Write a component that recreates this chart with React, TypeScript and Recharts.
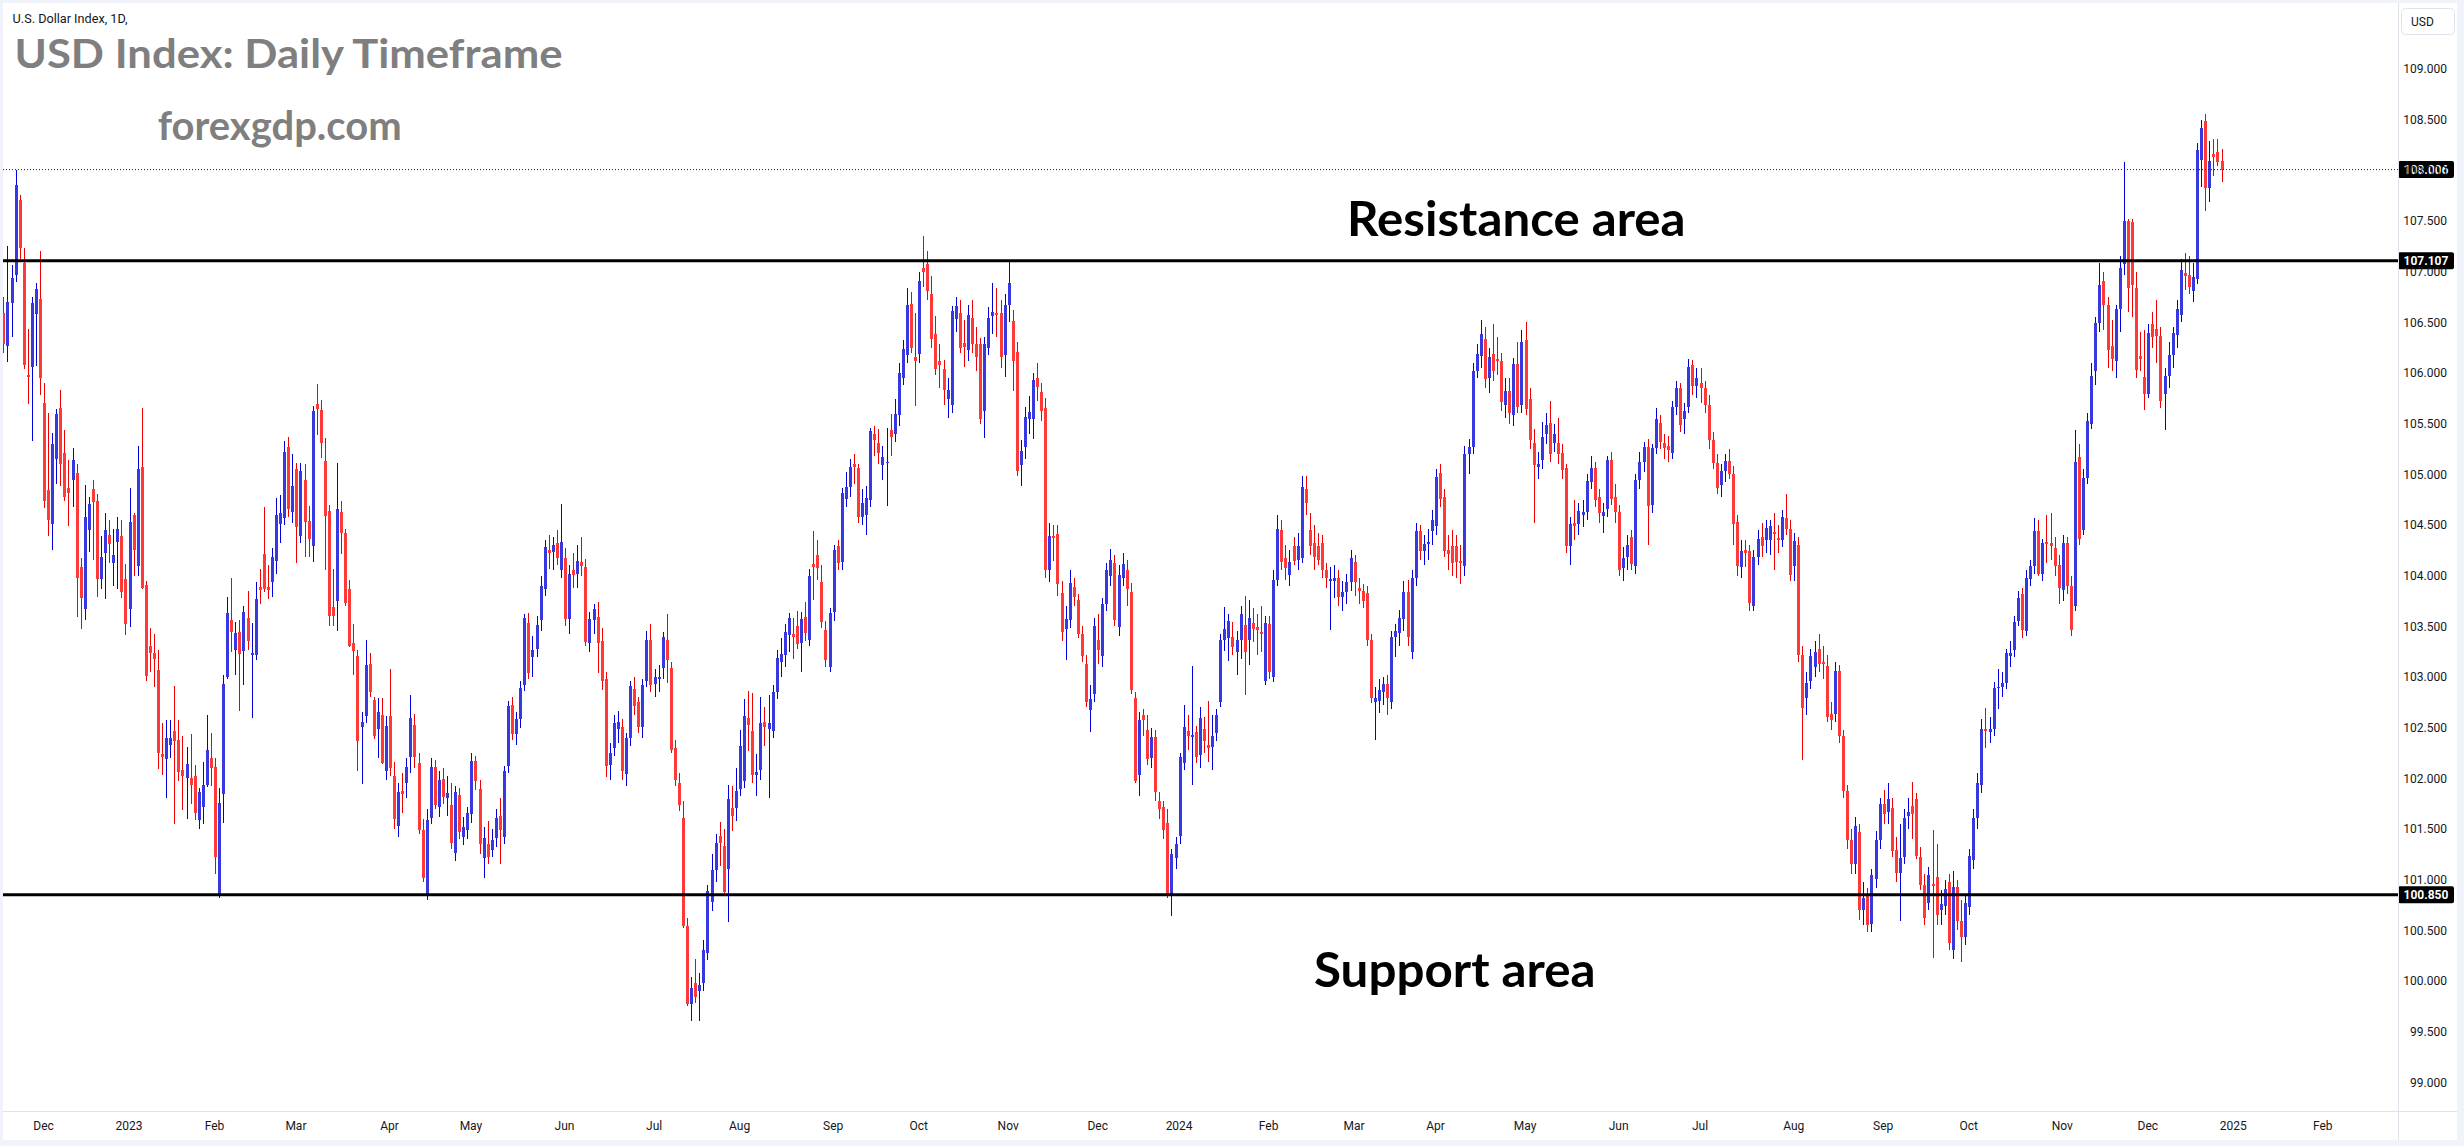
import React from "react";
import { ComposedChart, Bar, XAxis, YAxis, ReferenceLine } from "recharts";

// one daily bar: open, high, low, close
type Candle = [number, number, number, number];

const nov2022: Candle[] = [
  [106.59, 106.75, 106.2, 106.28], [106.27, 107.25, 106.11, 106.7], [106.69, 107.06, 106.35, 106.94], [106.97, 108.0, 106.9, 107.85], [107.71, 107.76, 107.12, 107.23],
  [107.08, 107.23, 106.04, 106.08], [105.98, 106.43, 105.69, 105.96], [106.06, 106.75, 105.33, 106.69], [106.58, 106.89, 106.07, 106.83], [106.73, 107.2, 105.78, 105.95],
];
const dec2022: Candle[] = [
  [105.7, 105.9, 104.67, 104.74], [104.84, 105.6, 104.39, 104.55], [104.51, 105.41, 104.25, 105.3], [105.15, 105.64, 104.9, 105.59], [105.65, 105.83, 104.88, 105.1],
  [105.21, 105.44, 104.74, 104.78], [104.86, 105.14, 104.49, 104.81], [104.94, 105.26, 104.68, 105.14], [105.01, 105.1, 103.59, 103.98], [104.08, 104.17, 103.47, 103.78],
  [103.67, 104.89, 103.56, 104.58], [104.45, 104.78, 104.23, 104.71], [104.85, 104.94, 104.15, 104.73], [104.74, 104.8, 103.79, 103.97], [103.97, 104.39, 103.87, 104.18],
  [104.22, 104.62, 103.77, 104.45], [104.4, 104.55, 104.12, 104.31], [104.12, 104.46, 103.9, 104.2], [104.33, 104.58, 103.87, 104.46], [104.39, 104.55, 103.78, 103.84],
  [103.97, 104.11, 103.41, 103.52],
];
const jan2023: Candle[] = [
  [103.67, 104.86, 103.49, 104.53], [104.6, 104.62, 104.0, 104.25], [104.09, 105.28, 104.0, 105.05], [105.07, 105.65, 103.87, 103.88], [103.91, 103.95, 102.96, 103.01],
  [103.3, 103.48, 103.05, 103.24], [103.24, 103.42, 102.9, 103.18], [103.07, 103.27, 102.09, 102.25], [102.24, 102.54, 102.03, 102.21], [102.19, 102.57, 101.8, 102.4],
  [102.33, 102.57, 102.2, 102.4], [102.47, 102.91, 101.55, 102.37], [102.38, 102.57, 101.97, 102.06], [102.08, 102.42, 101.69, 102.02], [102.0, 102.31, 101.6, 102.14],
  [102.0, 102.44, 101.75, 101.93], [102.02, 102.13, 101.59, 101.66], [101.59, 101.9, 101.5, 101.86], [101.72, 102.16, 101.55, 101.93], [101.93, 102.62, 101.91, 102.28],
  [102.2, 102.45, 101.92, 102.1],
];
const feb2023: Candle[] = [
  [102.11, 102.2, 101.05, 101.22], [100.85, 101.9, 100.82, 101.76], [101.84, 103.02, 101.56, 102.93], [103.0, 103.79, 102.98, 103.63], [103.56, 103.98, 103.25, 103.44],
  [103.27, 103.54, 103.02, 103.43], [103.44, 103.56, 102.66, 103.23], [103.26, 103.7, 102.92, 103.64], [103.58, 103.85, 103.27, 103.35], [103.22, 103.53, 102.59, 103.24],
  [103.22, 103.94, 103.17, 103.77], [103.89, 104.06, 103.72, 103.86], [104.21, 104.68, 103.84, 103.87], [103.89, 104.1, 103.77, 103.86], [103.94, 104.27, 103.79, 104.18],
  [104.14, 104.77, 104.02, 104.6], [104.51, 104.79, 104.32, 104.62], [104.57, 105.33, 104.5, 105.22], [105.27, 105.37, 104.58, 104.66], [104.63, 105.2, 104.52, 104.88],
];
const mar2023: Candle[] = [
  [105.05, 105.11, 104.12, 104.48], [104.39, 105.11, 104.32, 105.03], [104.94, 105.1, 104.18, 104.53], [104.54, 104.69, 104.18, 104.36], [104.29, 105.67, 104.13, 105.62],
  [105.69, 105.89, 105.39, 105.64], [105.63, 105.73, 105.16, 105.31], [105.13, 105.36, 104.05, 104.59], [104.64, 104.7, 103.5, 103.6], [103.69, 104.06, 103.5, 103.6],
  [103.75, 105.11, 103.45, 104.66], [104.63, 104.74, 104.21, 104.42], [104.42, 104.46, 103.7, 103.73], [103.87, 103.96, 103.29, 103.3], [103.33, 103.52, 103.02, 103.26],
  [103.21, 103.27, 102.07, 102.37], [102.51, 102.65, 101.94, 102.55], [102.61, 103.36, 102.54, 103.12], [103.13, 103.24, 102.8, 102.85], [102.77, 102.8, 102.39, 102.42],
  [102.49, 102.79, 102.2, 102.65], [102.62, 102.79, 102.14, 102.15], [102.07, 102.61, 101.98, 102.52],
];
const apr2023: Candle[] = [
  [102.61, 103.08, 102.02, 102.1], [102.02, 102.16, 101.5, 101.6], [101.53, 101.95, 101.42, 101.86], [101.87, 102.05, 101.66, 101.84], [101.95, 102.2, 101.8, 102.11],
  [102.21, 102.82, 102.05, 102.59], [102.53, 102.63, 102.1, 102.21], [102.15, 102.25, 101.45, 101.49], [101.49, 101.6, 100.98, 101.02], [100.84, 101.7, 100.8, 101.59],
  [101.61, 102.2, 101.55, 102.11], [102.11, 102.18, 101.7, 101.74], [101.72, 102.07, 101.62, 101.98], [101.99, 102.1, 101.75, 101.81], [101.8, 102.02, 101.63, 101.85],
  [101.74, 101.95, 101.3, 101.36], [101.26, 101.92, 101.18, 101.86], [101.83, 101.9, 101.4, 101.47], [101.42, 101.62, 101.34, 101.52], [101.49, 101.72, 101.4, 101.66],
];
const may2023: Candle[] = [
  [101.65, 102.25, 101.56, 102.17], [102.17, 102.22, 101.88, 101.97], [101.89, 101.98, 101.25, 101.35], [101.21, 101.52, 101.02, 101.41], [101.35, 101.58, 101.15, 101.22],
  [101.29, 101.5, 101.22, 101.39], [101.41, 101.7, 101.32, 101.61], [101.63, 101.8, 101.15, 101.49], [101.42, 102.12, 101.35, 102.07], [102.12, 102.76, 102.05, 102.71],
  [102.72, 102.8, 102.38, 102.44], [102.44, 102.65, 102.33, 102.58], [102.58, 102.96, 102.5, 102.89], [102.92, 103.62, 102.86, 103.58], [103.53, 103.63, 102.98, 103.04],
  [103.2, 103.4, 103.0, 103.27], [103.28, 103.6, 103.2, 103.51], [103.56, 104.0, 103.45, 103.9], [103.87, 104.35, 103.8, 104.28], [104.25, 104.4, 104.06, 104.22],
  [104.23, 104.38, 104.05, 104.3], [104.32, 104.45, 104.1, 104.17], [104.05, 104.71, 103.98, 104.33],
];
const jun2023: Candle[] = [
  [104.17, 104.27, 103.5, 103.57], [103.57, 104.1, 103.42, 104.02], [104.05, 104.22, 103.88, 104.01], [104.02, 104.3, 103.88, 104.14], [104.13, 104.38, 104.0, 104.09],
  [104.08, 104.16, 103.3, 103.34], [103.33, 103.64, 103.25, 103.57], [103.56, 103.72, 103.42, 103.67], [103.59, 103.74, 103.04, 103.33], [103.35, 103.48, 102.87, 102.96],
  [102.98, 103.05, 102.01, 102.12], [102.13, 102.35, 101.98, 102.25], [102.3, 102.62, 102.22, 102.54], [102.49, 102.66, 102.35, 102.55], [102.51, 102.58, 101.98, 102.07],
  [102.04, 102.45, 101.92, 102.4], [102.4, 102.96, 102.32, 102.91], [102.88, 103.0, 102.62, 102.71], [102.75, 102.8, 102.45, 102.51], [102.51, 102.98, 102.4, 102.92],
  [102.96, 103.45, 102.9, 103.36], [103.36, 103.52, 102.85, 102.92],
];
const jul2023: Candle[] = [
  [102.93, 103.08, 102.8, 103.0], [102.98, 103.12, 102.85, 103.0], [103.09, 103.44, 102.98, 103.39], [103.36, 103.62, 102.94, 103.17], [103.09, 103.15, 102.25, 102.28],
  [102.3, 102.38, 101.92, 101.98], [101.95, 102.05, 101.68, 101.74], [101.61, 101.78, 100.52, 100.54], [100.54, 100.62, 99.75, 99.77], [99.77, 100.04, 99.6, 99.93],
  [99.98, 100.22, 99.78, 99.84], [99.9, 100.08, 99.6, 99.96], [99.98, 100.4, 99.9, 100.3], [100.28, 100.95, 100.21, 100.89], [100.78, 101.25, 100.69, 101.09],
  [101.09, 101.45, 100.98, 101.36], [101.43, 101.57, 101.13, 101.36], [101.33, 101.5, 100.84, 100.88], [101.1, 101.93, 100.58, 101.79], [101.71, 101.92, 101.48, 101.63],
  [101.71, 102.1, 101.58, 101.87],
];
const aug2023: Candle[] = [
  [101.89, 102.48, 101.82, 102.32], [101.97, 102.78, 101.9, 102.61], [102.59, 102.86, 102.27, 102.53], [102.47, 102.84, 101.95, 102.03], [102.03, 102.24, 101.82, 102.06],
  [102.08, 102.8, 101.98, 102.54], [102.55, 102.7, 102.32, 102.51], [102.49, 102.82, 101.8, 102.54], [102.47, 102.92, 102.4, 102.85], [102.85, 103.27, 102.78, 103.19],
  [103.15, 103.38, 103.0, 103.23], [103.22, 103.52, 103.1, 103.44], [103.41, 103.63, 103.25, 103.58], [103.42, 103.58, 103.18, 103.39], [103.5, 103.65, 103.28, 103.32],
  [103.33, 103.64, 103.05, 103.57], [103.59, 103.74, 103.35, 103.43], [103.36, 104.06, 103.3, 104.0], [104.11, 104.44, 103.76, 104.08], [104.2, 104.35, 103.96, 104.07],
  [103.94, 104.1, 103.48, 103.54], [103.46, 103.55, 103.1, 103.17], [103.1, 103.68, 103.05, 103.63],
];
const sep2023: Candle[] = [
  [103.64, 104.3, 103.55, 104.25], [104.29, 104.35, 104.05, 104.12], [104.13, 104.86, 104.05, 104.81], [104.76, 105.02, 104.68, 104.87], [104.87, 105.15, 104.78, 105.07],
  [105.1, 105.2, 104.9, 105.07], [105.06, 105.1, 104.52, 104.58], [104.58, 104.85, 104.5, 104.72], [104.6, 104.88, 104.4, 104.77], [104.75, 105.46, 104.68, 105.43],
  [105.4, 105.48, 105.18, 105.34], [105.31, 105.45, 105.1, 105.21], [105.09, 105.28, 104.94, 105.17], [105.11, 105.46, 104.69, 105.12], [105.44, 105.59, 105.18, 105.37],
  [105.4, 105.74, 105.32, 105.59], [105.58, 106.1, 105.48, 106.0], [105.95, 106.32, 105.88, 106.24], [106.18, 106.84, 106.1, 106.67], [106.68, 106.8, 106.2, 106.25],
  [106.16, 106.59, 105.67, 106.12],
];
const oct2023: Candle[] = [
  [106.19, 107.0, 106.1, 106.91], [107.03, 107.35, 106.85, 107.0], [107.07, 107.2, 106.72, 106.81], [106.78, 106.96, 106.25, 106.33], [106.38, 106.56, 105.98, 106.04],
  [106.12, 106.28, 105.85, 106.08], [106.04, 106.13, 105.68, 105.83], [105.74, 105.95, 105.55, 105.83], [105.68, 106.66, 105.6, 106.61], [106.53, 106.75, 106.4, 106.66],
  [106.59, 106.72, 106.2, 106.25], [106.29, 106.52, 106.06, 106.26], [106.23, 106.67, 106.12, 106.57], [106.54, 106.72, 106.2, 106.28], [106.28, 106.45, 106.02, 106.16],
  [106.28, 106.34, 105.5, 105.54], [105.62, 106.35, 105.36, 106.28], [106.25, 106.65, 106.18, 106.54], [106.56, 106.89, 106.38, 106.6], [106.59, 106.84, 106.35, 106.57],
  [106.59, 106.72, 106.05, 106.16], [106.18, 106.78, 105.96, 106.67],
];
const nov2023: Candle[] = [
  [106.67, 107.11, 106.5, 106.89], [106.51, 106.62, 105.82, 106.12], [106.21, 106.3, 104.98, 105.03], [105.09, 105.34, 104.88, 105.23], [105.27, 105.66, 105.15, 105.56],
  [105.54, 105.77, 105.4, 105.61], [105.54, 106.0, 105.35, 105.93], [105.95, 106.1, 105.72, 105.86], [105.81, 105.9, 105.53, 105.62], [105.65, 105.75, 103.98, 104.05],
  [104.05, 104.52, 103.94, 104.39], [104.39, 104.5, 104.14, 104.37], [104.41, 104.5, 103.8, 103.92], [103.83, 103.95, 103.35, 103.44], [103.47, 103.7, 103.17, 103.57],
  [103.56, 104.05, 103.48, 103.93], [103.89, 103.98, 103.7, 103.79], [103.76, 103.82, 103.38, 103.42], [103.42, 103.5, 103.15, 103.21], [103.13, 103.22, 102.7, 102.75],
  [102.67, 102.92, 102.46, 102.78], [102.83, 103.58, 102.75, 103.5],
];
const dec2023: Candle[] = [
  [103.36, 103.62, 103.13, 103.27], [103.21, 103.78, 103.1, 103.72], [103.72, 104.12, 103.65, 104.05], [104.0, 104.26, 103.9, 104.15], [104.12, 104.2, 103.5, 103.56],
  [103.49, 104.1, 103.4, 104.01], [103.98, 104.22, 103.9, 104.11], [104.05, 104.15, 103.7, 103.87], [103.84, 103.93, 102.83, 102.87], [102.79, 102.85, 101.95, 101.97],
  [102.03, 102.65, 101.82, 102.57], [102.62, 102.68, 102.42, 102.57], [102.48, 102.62, 102.13, 102.19], [102.2, 102.5, 102.1, 102.41], [102.41, 102.48, 101.78, 101.86],
  [101.78, 101.86, 101.6, 101.7], [101.72, 101.78, 101.4, 101.49], [101.56, 101.7, 100.82, 100.85], [100.85, 101.3, 100.64, 101.25], [101.21, 101.42, 101.1, 101.35],
];
const jan2024: Candle[] = [
  [101.43, 102.25, 101.35, 102.21], [102.15, 102.72, 102.08, 102.51], [102.47, 102.62, 102.28, 102.42], [102.41, 103.11, 101.93, 102.43], [102.46, 102.52, 102.15, 102.21],
  [102.23, 102.7, 102.1, 102.59], [102.49, 102.6, 102.25, 102.37], [102.33, 102.76, 102.16, 102.3], [102.31, 102.62, 102.08, 102.42], [102.45, 102.68, 102.37, 102.62],
  [102.75, 103.42, 102.7, 103.36], [103.36, 103.69, 103.26, 103.47], [103.38, 103.62, 103.16, 103.55], [103.39, 103.54, 103.22, 103.29], [103.25, 103.45, 103.02, 103.36],
  [103.36, 103.7, 103.18, 103.62], [103.51, 103.8, 102.82, 103.25], [103.36, 103.76, 103.12, 103.58], [103.53, 103.68, 103.34, 103.47], [103.49, 103.62, 103.22, 103.46],
  [103.44, 103.7, 103.25, 103.42], [102.96, 103.6, 102.92, 103.53],
];
const feb2024: Candle[] = [
  [103.52, 103.6, 102.98, 103.05], [103.0, 104.05, 102.95, 103.96], [103.96, 104.6, 103.9, 104.46], [104.45, 104.55, 104.05, 104.13], [104.17, 104.3, 103.96, 104.07],
  [104.01, 104.25, 103.9, 104.13], [104.29, 104.38, 104.1, 104.14], [104.15, 104.42, 104.05, 104.29], [104.17, 104.98, 104.12, 104.87], [104.85, 104.98, 104.6, 104.72],
  [104.45, 104.62, 104.2, 104.29], [104.32, 104.5, 104.05, 104.18], [104.29, 104.42, 104.1, 104.15], [104.32, 104.4, 103.98, 104.05], [104.05, 104.12, 103.88, 103.98],
  [103.95, 104.08, 103.46, 103.97], [103.95, 104.1, 103.78, 103.98], [103.98, 104.05, 103.7, 103.79], [103.79, 103.95, 103.65, 103.84], [103.84, 104.02, 103.72, 103.94],
  [103.94, 104.25, 103.85, 104.17],
];
const mar2024: Candle[] = [
  [104.13, 104.2, 103.8, 103.94], [103.88, 103.98, 103.72, 103.85], [103.85, 103.92, 103.68, 103.75], [103.83, 103.9, 103.3, 103.36], [103.36, 103.42, 102.74, 102.79],
  [102.75, 102.9, 102.38, 102.79], [102.76, 102.98, 102.64, 102.87], [102.85, 103.0, 102.72, 102.93], [102.93, 103.02, 102.62, 102.79], [102.75, 103.45, 102.68, 103.39],
  [103.39, 103.52, 103.2, 103.45], [103.43, 103.66, 103.3, 103.58], [103.57, 103.95, 103.45, 103.84], [103.84, 103.96, 103.3, 103.39], [103.25, 104.05, 103.18, 103.98],
  [103.98, 104.52, 103.9, 104.44], [104.44, 104.5, 104.15, 104.24], [104.24, 104.4, 104.1, 104.31], [104.31, 104.46, 104.15, 104.33], [104.44, 104.65, 104.3, 104.55],
];
const apr2024: Candle[] = [
  [104.49, 105.05, 104.4, 104.97], [105.01, 105.1, 104.68, 104.76], [104.78, 104.85, 104.18, 104.24], [104.25, 104.4, 104.05, 104.21], [104.29, 104.45, 104.0, 104.12],
  [104.29, 104.4, 103.98, 104.13], [104.14, 104.3, 103.92, 104.12], [104.09, 105.28, 104.0, 105.2], [105.2, 105.35, 105.0, 105.27], [105.27, 106.1, 105.2, 106.02],
  [106.02, 106.28, 105.95, 106.19], [106.17, 106.52, 106.05, 106.38], [106.33, 106.45, 105.85, 105.94], [105.95, 106.25, 105.8, 106.16], [106.19, 106.48, 105.92, 106.02],
  [106.14, 106.35, 105.98, 106.12], [106.12, 106.2, 105.62, 105.71], [105.68, 105.95, 105.55, 105.82], [105.82, 105.95, 105.5, 105.6], [105.58, 106.15, 105.48, 106.09],
  [106.09, 106.3, 105.6, 105.66], [105.68, 106.42, 105.6, 106.3],
];
const may2024: Candle[] = [
  [106.32, 106.5, 105.58, 105.64], [105.74, 105.85, 105.25, 105.34], [105.31, 105.45, 104.52, 105.09], [105.07, 105.22, 104.95, 105.1], [105.14, 105.52, 105.05, 105.37],
  [105.4, 105.6, 105.3, 105.49], [105.51, 105.72, 105.12, 105.2], [105.31, 105.5, 105.22, 105.4], [105.31, 105.55, 105.1, 105.2], [105.21, 105.3, 104.95, 105.04],
  [105.06, 105.1, 104.22, 104.29], [104.29, 104.58, 104.1, 104.51], [104.52, 104.75, 104.35, 104.49], [104.51, 104.72, 104.4, 104.64], [104.6, 104.75, 104.48, 104.63],
  [104.63, 105.0, 104.55, 104.93], [104.92, 105.18, 104.85, 105.06], [105.06, 105.12, 104.68, 104.75], [104.78, 104.85, 104.52, 104.62], [104.59, 104.72, 104.42, 104.63],
  [104.66, 105.18, 104.58, 105.14], [105.14, 105.22, 104.7, 104.76], [104.78, 104.9, 104.52, 104.63],
];
const jun2024: Candle[] = [
  [104.63, 104.7, 104.0, 104.05], [104.07, 104.28, 103.95, 104.17], [104.18, 104.4, 104.05, 104.3], [104.38, 104.45, 104.05, 104.11], [104.09, 105.0, 104.02, 104.94],
  [104.94, 105.22, 104.85, 105.12], [105.12, 105.32, 105.02, 105.27], [105.27, 105.35, 104.3, 104.69], [104.7, 105.3, 104.62, 105.26], [105.26, 105.65, 105.2, 105.54],
  [105.51, 105.58, 105.25, 105.32], [105.31, 105.4, 105.15, 105.26], [105.28, 105.38, 105.12, 105.24], [105.21, 105.72, 105.15, 105.66], [105.66, 105.92, 105.58, 105.85],
  [105.85, 105.9, 105.42, 105.49], [105.54, 105.7, 105.4, 105.62], [105.66, 106.14, 105.6, 106.06], [106.08, 106.13, 105.78, 105.87], [105.87, 106.05, 105.75, 105.95],
];
const jul2024: Candle[] = [
  [105.9, 106.05, 105.7, 105.85], [105.85, 105.92, 105.6, 105.68], [105.68, 105.78, 105.25, 105.34], [105.34, 105.42, 105.05, 105.11], [105.11, 105.2, 104.8, 104.86],
  [104.89, 105.1, 104.78, 105.03], [105.03, 105.2, 104.92, 105.13], [105.13, 105.25, 104.95, 105.0], [105.0, 105.08, 104.3, 104.51], [104.53, 104.6, 104.0, 104.09],
  [104.08, 104.35, 103.98, 104.24], [104.25, 104.35, 104.08, 104.22], [104.24, 104.3, 103.65, 103.73], [103.7, 104.25, 103.65, 104.18], [104.18, 104.45, 104.1, 104.36],
  [104.38, 104.52, 104.18, 104.29], [104.35, 104.55, 104.22, 104.47], [104.35, 104.55, 104.2, 104.49], [104.43, 104.62, 104.05, 104.41], [104.37, 104.5, 104.22, 104.35],
  [104.35, 104.65, 104.28, 104.58], [104.57, 104.8, 104.4, 104.46], [104.46, 104.55, 103.95, 104.01],
];
const aug2024: Candle[] = [
  [104.09, 104.42, 103.95, 104.34], [104.3, 104.38, 103.15, 103.22], [103.22, 103.3, 102.18, 102.69], [102.79, 103.05, 102.62, 102.94], [102.96, 103.28, 102.88, 103.21],
  [103.1, 103.35, 103.0, 103.25], [103.28, 103.42, 103.05, 103.13], [103.15, 103.3, 102.98, 103.13], [103.11, 103.22, 102.55, 102.6], [102.63, 102.75, 102.48, 102.57],
  [102.63, 103.15, 102.55, 103.06], [103.06, 103.12, 102.35, 102.42], [102.42, 102.48, 101.8, 101.87], [101.87, 101.93, 101.3, 101.39], [101.39, 101.5, 101.05, 101.15],
  [101.15, 101.62, 101.05, 101.53], [101.47, 101.55, 100.6, 100.7], [100.7, 100.98, 100.55, 100.82], [100.85, 100.92, 100.48, 100.55], [100.56, 101.1, 100.48, 101.04],
  [101.01, 101.48, 100.92, 101.39], [101.39, 101.8, 101.3, 101.75],
];
const sep2024: Candle[] = [
  [101.75, 101.88, 101.55, 101.65], [101.67, 101.95, 101.55, 101.79], [101.71, 101.8, 101.22, 101.28], [101.29, 101.42, 100.98, 101.06], [101.06, 101.55, 100.59, 101.21],
  [101.22, 101.7, 101.15, 101.61], [101.63, 101.8, 101.5, 101.67], [101.73, 101.96, 101.4, 101.65], [101.79, 101.85, 101.2, 101.23], [101.22, 101.32, 100.9, 100.95],
  [100.95, 101.05, 100.55, 100.62], [100.77, 101.12, 100.7, 101.04], [100.96, 101.49, 100.23, 100.94], [101.03, 101.35, 100.55, 100.65], [100.7, 100.9, 100.55, 100.76],
  [100.74, 101.0, 100.65, 100.91], [100.98, 101.05, 100.3, 100.37], [100.3, 101.08, 100.22, 100.93], [100.93, 101.0, 100.5, 100.59], [100.59, 100.8, 100.19, 100.43],
  [100.43, 100.85, 100.35, 100.77],
];
const oct2024: Candle[] = [
  [100.73, 101.3, 100.65, 101.23], [101.19, 101.7, 101.1, 101.61], [101.61, 102.05, 101.5, 101.95], [101.93, 102.58, 101.85, 102.49], [102.49, 102.69, 102.3, 102.47],
  [102.46, 102.6, 102.35, 102.49], [102.49, 102.95, 102.42, 102.89], [102.89, 103.08, 102.68, 102.9], [102.9, 103.05, 102.8, 102.94], [102.94, 103.28, 102.88, 103.24],
  [103.21, 103.35, 103.1, 103.24], [103.27, 103.6, 103.2, 103.54], [103.55, 103.85, 103.5, 103.78], [103.82, 103.88, 103.38, 103.46], [103.45, 104.05, 103.4, 103.98],
  [103.97, 104.15, 103.9, 104.09], [104.09, 104.57, 104.02, 104.44], [104.44, 104.55, 104.0, 104.02], [104.02, 104.36, 103.95, 104.32], [104.33, 104.6, 104.12, 104.31],
  [104.32, 104.62, 104.15, 104.29], [104.27, 104.38, 104.0, 104.09], [104.1, 104.2, 103.72, 103.88],
];
const nov2024: Candle[] = [
  [103.86, 104.4, 103.75, 104.32], [104.32, 104.38, 103.82, 103.9], [103.9, 104.0, 103.4, 103.46], [103.7, 105.44, 103.65, 105.12], [105.17, 105.3, 104.3, 104.36],
  [104.45, 105.05, 104.4, 104.96], [104.96, 105.6, 104.9, 105.53], [105.5, 106.1, 105.45, 105.97], [106.02, 106.55, 105.88, 106.49], [106.49, 107.08, 106.4, 106.87],
  [106.91, 107.0, 106.42, 106.67], [106.67, 106.75, 106.05, 106.23], [106.27, 106.52, 106.02, 106.14], [106.12, 106.67, 105.95, 106.63], [106.63, 107.15, 106.4, 107.03],
  [107.07, 108.08, 106.97, 107.5], [107.5, 107.52, 106.6, 106.84], [107.49, 107.52, 106.55, 106.87], [106.84, 107.0, 105.95, 106.03], [106.17, 106.4, 106.02, 106.14],
  [105.96, 106.42, 105.63, 105.79],
];
const dec2024: Candle[] = [
  [105.79, 106.48, 105.75, 106.39], [106.48, 106.6, 106.25, 106.35], [106.43, 106.72, 106.1, 106.36], [106.36, 106.45, 105.65, 105.72], [105.79, 106.05, 105.44, 105.97],
  [105.97, 106.3, 105.85, 106.18], [106.18, 106.45, 106.05, 106.39], [106.37, 106.72, 106.25, 106.63], [106.57, 107.12, 106.5, 107.02], [106.99, 107.18, 106.82, 106.96],
  [106.97, 107.15, 106.78, 106.85], [106.81, 107.08, 106.7, 106.95], [106.93, 108.27, 106.88, 108.2], [108.1, 108.5, 107.83, 108.42], [108.49, 108.55, 107.6, 107.82],
  [107.82, 108.29, 107.69, 108.09], [108.16, 108.31, 107.94, 108.13], [108.18, 108.31, 108.04, 108.08], [108.09, 108.21, 107.88, 108.006],
];

const months: Candle[][] = [
  nov2022, dec2022, jan2023, feb2023, mar2023, apr2023, may2023, jun2023, jul2023, aug2023, sep2023, oct2023, nov2023,
  dec2023, jan2024, feb2024, mar2024, apr2024, may2024, jun2024, jul2024, aug2024, sep2024, oct2024, nov2024, dec2024,
];

// time-scale label for the first bar of each month after the partial first one
const monthLabels = [
  "Dec", "2023", "Feb", "Mar", "Apr", "May", "Jun", "Jul", "Aug", "Sep", "Oct", "Nov",
  "Dec", "2024", "Feb", "Mar", "Apr", "May", "Jun", "Jul", "Aug", "Sep", "Oct", "Nov", "Dec",
];
// months that are still empty on the right side, as daily bar slots
const futureTickSlots = [548, 570];
const futureTickLabels = ["2025", "Feb"];

const priceTicks = [99, 99.5, 100, 100.5, 101, 101.5, 102, 102.5, 103, 103.5, 104, 104.5, 105, 105.5, 106, 106.5, 107, 107.5, 108, 108.5, 109];

const RESISTANCE = 107.107;
const SUPPORT = 100.85;
const LAST_PRICE = 108.006;

const candles = months.flat().map(([o, h, l, c], i) => ({ i, o, h, l, c, range: [l, h] }));

const monthStarts: number[] = [];
{
  let start = 0;
  months.forEach((m, k) => {
    if (k > 0) monthStarts.push(start);
    start += m.length;
  });
}
const timeTicks = [...monthStarts, ...futureTickSlots];
const timeLabels = [...monthLabels, ...futureTickLabels];

const BODY_UP = "#3838e0";
const WICK_UP = "#0000dc";
const BODY_DOWN = "#ff3838";
const WICK_DOWN = "#f00000";
const TEXT = "#131722";
const LINE = "#e0e3eb";

function CandleShape(props: any) {
  const { x, y, width, height, payload } = props;
  if (!payload || x == null || y == null) return null;
  const { o, h, l, c } = payload;
  const top = Math.min(y, y + height);
  const span = Math.abs(height);
  const perUnit = h > l ? span / (h - l) : 0;
  const at = (v: number) => top + (h - v) * perUnit;
  const up = c >= o;
  const cx = Math.round(x + width / 2);
  const bodyTop = Math.round(at(Math.max(o, c)));
  const bodyBottom = Math.round(at(Math.min(o, c)));
  const wickTop = Math.round(top);
  const wickBottom = Math.round(top + span);
  return (
    <g>
      <rect x={cx} y={wickTop} width={1} height={Math.max(1, wickBottom - wickTop)} fill={up ? WICK_UP : WICK_DOWN} />
      <rect x={cx - 1} y={bodyTop} width={3} height={Math.max(1, bodyBottom - bodyTop)} fill={up ? BODY_UP : BODY_DOWN} />
    </g>
  );
}

function PriceTag(props: any) {
  const vb = props.viewBox || {};
  const x = (vb.x ?? 0) + (vb.width ?? 0);
  const y = vb.y ?? 0;
  return (
    <g>
      <rect x={x} y={y - 8.5} width={56} height={17} rx={2} fill="#000" />
      <text x={x + 28} y={y + 4.5} textAnchor="middle" fill="#fff" fontSize={12} fontWeight={700} fontFamily="Roboto, sans-serif">
        {props.text}
      </text>
    </g>
  );
}

function PriceTick(props: any) {
  const { x, y, payload } = props;
  return (
    <text x={x + 49} y={y + 4.3} textAnchor="end" fill={TEXT} fontSize={12} fontFamily="Roboto, sans-serif">
      {Number(payload.value).toFixed(3)}
    </text>
  );
}

function TimeTick(props: any) {
  const { x, y, payload } = props;
  const k = timeTicks.indexOf(payload.value);
  return (
    <text x={x} y={y + 19} textAnchor="middle" fill={TEXT} fontSize={12} fontFamily="Roboto, sans-serif">
      {k >= 0 ? timeLabels[k] : ""}
    </text>
  );
}

export default function App() {
  return (
    <div style={{ position: "relative", width: 2464, height: 1146, background: "#f0f3fa", overflow: "hidden" }}>
      <style>{"body{margin:0}"}</style>
      <div style={{ position: "absolute", left: 3, top: 3, width: 2454, height: 1137, background: "#fff" }}>
        <ComposedChart width={2454} height={1137} data={candles} margin={{ top: 0, right: 0, bottom: 0, left: 0 }}>
          <XAxis
            dataKey="i"
            type="number"
            domain={[0.025, 588.48]}
            allowDataOverflow
            ticks={timeTicks}
            interval={0}
            tick={<TimeTick />}
            tickLine={false}
            axisLine={false}
            tickSize={0}
            tickMargin={0}
            height={29}
          />
          <YAxis
            orientation="right"
            type="number"
            domain={[98.716, 109.65]}
            allowDataOverflow
            ticks={priceTicks}
            interval={0}
            tick={<PriceTick />}
            tickLine={false}
            axisLine={false}
            tickSize={0}
            tickMargin={0}
            width={59}
          />
          <Bar dataKey="range" barSize={3} isAnimationActive={false} shape={(p: any) => <CandleShape {...p} />} />
          <ReferenceLine y={LAST_PRICE} stroke={TEXT} strokeWidth={1} strokeDasharray="1 2" label={(p: any) => <PriceTag {...p} text="108.006" />} />
          <ReferenceLine y={RESISTANCE} stroke="#000" strokeWidth={3} label={(p: any) => <PriceTag {...p} text="107.107" />} />
          <ReferenceLine y={SUPPORT} stroke="#000" strokeWidth={3} label={(p: any) => <PriceTag {...p} text="100.850" />} />
        </ComposedChart>
        <div style={{ position: "absolute", left: 2395, top: 0, width: 1, height: 1137, background: LINE }} />
        <div style={{ position: "absolute", left: 0, top: 1108, width: 2454, height: 1, background: LINE }} />
      </div>
      <svg width={2464} height={1146} style={{ position: "absolute", left: 0, top: 0, pointerEvents: "none" }}>
        <text x={12.6} y={23} fontSize={12} fill={TEXT} fontFamily="Roboto, sans-serif" textLength={115} lengthAdjust="spacingAndGlyphs">
          U.S. Dollar Index, 1D,
        </text>
        <text x={14.5} y={68.3} fontSize={40} fontWeight={700} fill="#7f7f7f" fontFamily="Lato, sans-serif" textLength={548} lengthAdjust="spacingAndGlyphs">
          USD Index: Daily Timeframe
        </text>
        <text x={157.7} y={140} fontSize={40} fontWeight={700} fill="#7f7f7f" fontFamily="Lato, sans-serif" textLength={244} lengthAdjust="spacingAndGlyphs">
          forexgdp.com
        </text>
        <text x={1347} y={236} fontSize={48} fontWeight={700} fill="#000" fontFamily="Lato, sans-serif" textLength={338.6} lengthAdjust="spacingAndGlyphs">
          Resistance area
        </text>
        <text x={1314} y={987} fontSize={48} fontWeight={700} fill="#000" fontFamily="Lato, sans-serif" textLength={281.5} lengthAdjust="spacingAndGlyphs">
          Support area
        </text>
        <rect x={2401.5} y={8.5} width={53} height={26} rx={4} fill="#fff" stroke={LINE} />
        <text x={2411} y={26} fontSize={12} fill={TEXT} fontFamily="Roboto, sans-serif">
          USD
        </text>
      </svg>
    </div>
  );
}
